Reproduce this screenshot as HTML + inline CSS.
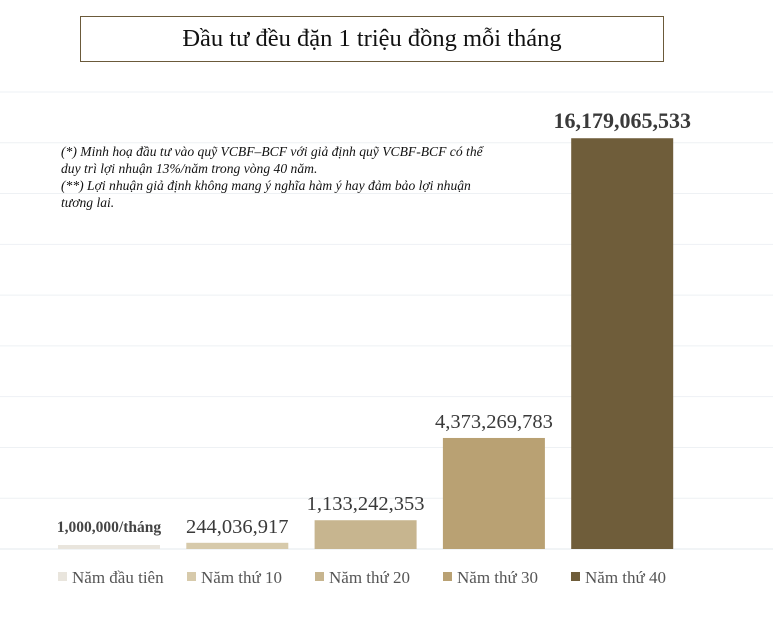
<!DOCTYPE html>
<html><head><meta charset="utf-8">
<style>
body{margin:0;background:#fff;width:773px;height:619px;overflow:hidden;font-family:"Liberation Serif","Noto Serif CJK SC",serif;}
#title{position:absolute;left:80px;top:16px;width:584px;height:46px;border:1px solid #6b5a3a;box-sizing:border-box;text-align:center;font-size:24.5px;line-height:44px;color:#111;}
#note{position:absolute;left:61px;top:143px;font-size:13.6px;font-style:italic;line-height:17px;color:#111;width:428px;}
svg{position:absolute;left:0;top:0;}
</style></head><body>
<svg width="773" height="619" id="chart"></svg>
<div id="title">Đầu tư đều đặn 1 triệu đồng mỗi tháng</div>
<div id="note">(*) Minh hoạ đầu tư vào quỹ VCBF–BCF với giả định quỹ VCBF-BCF có thể duy trì lợi nhuận 13%/năm trong vòng 40 năm.<br>(**) Lợi nhuận giả định không mang ý nghĩa hàm ý hay đảm bảo lợi nhuận tương lai.</div>
<script>
const categories=["Năm đầu tiên","Năm thứ 10","Năm thứ 20","Năm thứ 30","Năm thứ 40"];
const values=[12000000,244036917,1133242353,4373269783,16179065533];
const valueLabels=["1,000,000/tháng","244,036,917","1,133,242,353","4,373,269,783","16,179,065,533"];
const gridTicks=[0,2e9,4e9,6e9,8e9,10e9,12e9,14e9,16e9,18e9];
const colors=["#e9e5dd","#d7caab","#c7b58f","#b9a173","#6f5d3a"];
const NS="http://www.w3.org/2000/svg";
const svg=document.getElementById('chart');
const y0=549,yMaxPx=92,vMax=18e9;
function y(v){return y0-(v/vMax)*(y0-yMaxPx);}
function x(i){return 58+i*128.3;}
const bw=102;
function mk(t,a){const e=document.createElementNS(NS,t);for(const k in a)e.setAttribute(k,a[k]);svg.appendChild(e);return e;}
gridTicks.forEach((t,i)=>{const l=mk('line',{x1:0,x2:773,y1:y(t),y2:y(t),stroke:i==0?'#e3e8ee':'#eef1f4','stroke-width':1});

});
values.forEach((v,i)=>{
const top=Math.min(y(v),y0-4);
const r=mk('rect',{x:x(i),y:top,width:bw,height:y0-top,fill:colors[i]});


const small=i==0;
const t=mk('text',{x:x(i)+bw/2,y:small?top-13:top-10,'text-anchor':'middle','font-size':small?15.5:(i==4?22:20.5),'font-weight':(i==0||i==4)?'bold':'normal',fill:i==0?'#444':'#3a3a3a'});
t.textContent=valueLabels[i];


});
const lx=[58,187,315,443,571];
categories.forEach((c,i)=>{
const r=mk('rect',{x:lx[i],y:572,width:9,height:9,fill:colors[i]});


const t=mk('text',{x:lx[i]+14,y:583,'font-size':17,fill:'#555'});
t.textContent=c;


});
</script>
</body></html>
